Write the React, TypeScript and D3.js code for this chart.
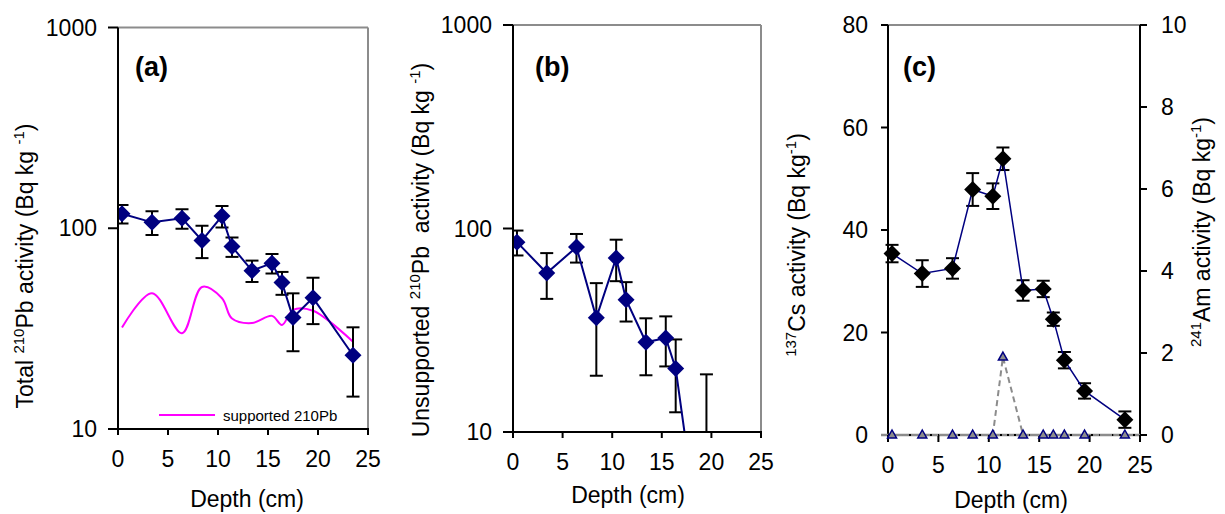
import React from 'react';
import * as d3 from 'd3';

// ---------------- data ----------------
const depths = [0.4, 3.4, 6.4, 8.4, 10.4, 11.4, 13.4, 15.4, 16.4, 17.5, 19.5, 23.5];
const totalPb = [118, 107, 112, 87, 115, 81, 61.5, 67, 53.6, 35.9, 45, 23.3];
const totalPbErr = [12.5, 14.5, 12.5, 16, 14, 9, 7.5, 7.5, 7, 11.5, 11.7, 8.8];
const supportedPb = [32, 47.5, 30, 51, 44.8, 35.5, 33.7, 36.6, 33, 39.2, 38.8, 27.2];
const unsupportedPb: (number | null)[] = [85.7, 60.4, 81, 36.4, 71.6, 44.7, 27.6, 29, 20.5, 8.4, 4, null];
const unsupportedPbErr: (number | null)[] = [12, 15.3, 13, 17.5, 16.5, 9.8, 8.6, 8, 8, 1, 15.2, null];
const cs137 = [35.4, 31.5, 32.5, 47.9, 46.6, 53.9, 28.2, 28.5, 22.6, 14.6, 8.6, 3.0];
const cs137Err = [1.7, 2.6, 2.0, 3.2, 2.5, 2.2, 2.0, 1.6, 1.3, 1.6, 1.5, 1.6];
const am241 = [0, 0, 0, 0, 0, 1.9, 0, 0, 0, 0, 0, 0];

const depthTicks = [0, 5, 10, 15, 20, 25];
const logTicks = [10, 100, 1000];
const csTicks = [0, 20, 40, 60, 80];
const amTicks = [0, 2, 4, 6, 8, 10];

// ---------------- style ----------------
const FONT = "'Liberation Sans', Arial, Helvetica, sans-serif";
const NAVY = '#000080';
const FS = 23;

const diamond = (x: number, y: number, r: number) =>
  `M${x},${y - r}L${x + r},${y}L${x},${y + r}L${x - r},${y}Z`;
const triangle = (x: number, y: number, w: number, h: number) =>
  `M${x},${y - h / 2}L${x + w / 2},${y + h / 2}L${x - w / 2},${y + h / 2}Z`;

type Box = { x0: number; x1: number; y0: number; y1: number };

function Frame({ b, rightGray = true }: { b: Box; rightGray?: boolean }) {
  return (
    <g>
      <line x1={b.x0} x2={b.x1} y1={b.y0} y2={b.y0} stroke="#8c8c8c" strokeWidth={2} />
      {rightGray && <line x1={b.x1} x2={b.x1} y1={b.y0} y2={b.y1} stroke="#8c8c8c" strokeWidth={2} />}
    </g>
  );
}

function ErrBar({ x, yHi, yLo }: { x: number; yHi: number; yLo: number }) {
  const c = 6.5;
  return (
    <g stroke="#000" strokeWidth={2}>
      <line x1={x} x2={x} y1={yHi} y2={yLo} />
      <line x1={x - c} x2={x + c} y1={yHi} y2={yHi} />
      <line x1={x - c} x2={x + c} y1={yLo} y2={yLo} />
    </g>
  );
}

function XAxis({ b, x, labelDy, title, titleX, titleY, tickLen = 6 }: any) {
  return (
    <g>
      {depthTicks.map((t) => (
        <g key={t}>
          <line x1={x(t)} x2={x(t)} y1={b.y1} y2={b.y1 + tickLen} stroke="#000" strokeWidth={2} />
          <text x={x(t)} y={b.y1 + labelDy} textAnchor="middle" fontSize={FS} fontFamily={FONT}>
            {t}
          </text>
        </g>
      ))}
      <text x={titleX} y={titleY} textAnchor="middle" fontSize={FS} fontFamily={FONT}>
        {title}
      </text>
    </g>
  );
}

function LogYAxis({ b, y, labelEnd }: any) {
  return (
    <g>
      <line x1={b.x0} x2={b.x0} y1={b.y0} y2={b.y1} stroke="#000" strokeWidth={2} />
      <line x1={b.x0} x2={b.x1 + 1} y1={b.y1} y2={b.y1} stroke="#000" strokeWidth={2} />
      {logTicks.map((t) => (
        <g key={t}>
          <line x1={b.x0 - 10} x2={b.x0} y1={y(t)} y2={y(t)} stroke="#000" strokeWidth={2} />
          <text x={labelEnd} y={y(t) + 8} textAnchor="end" fontSize={FS} fontFamily={FONT}>
            {t}
          </text>
        </g>
      ))}
    </g>
  );
}

function PanelTag({ x, text }: { x: number; text: string }) {
  return (
    <text x={x} y={76} fontSize={27} fontWeight="bold" fontFamily={FONT}>
      {text}
    </text>
  );
}

const SUP = { fontSize: 15 };

export default function App() {
  // ---- panel (a)
  const A: Box = { x0: 118, x1: 368, y0: 27.5, y1: 429 };
  const xA = d3.scaleLinear().domain([0, 25]).range([A.x0, A.x1]);
  const yA = d3.scaleLog().domain([10, 1000]).range([A.y1, A.y0]);
  const lineA = d3
    .line<number>()
    .x((_, i) => xA(depths[i]))
    .y((v) => yA(v));
  const suppLine = d3
    .line<number>()
    .x((_, i) => xA(depths[i]))
    .y((v) => yA(v))
    .curve(d3.curveCatmullRom.alpha(0.5));

  // ---- panel (b)
  const B: Box = { x0: 513, x1: 761, y0: 25, y1: 432 };
  const xB = d3.scaleLinear().domain([0, 25]).range([B.x0, B.x1]);
  const yB = d3.scaleLog().domain([10, 1000]).range([B.y1, B.y0]);
  const lineB = d3
    .line<number | null>()
    .defined((v) => v !== null)
    .x((_, i) => xB(depths[i]))
    .y((v) => yB(v as number));

  // ---- panel (c)
  const C: Box = { x0: 888, x1: 1140, y0: 25, y1: 435 };
  const xC = d3.scaleLinear().domain([0, 25]).range([C.x0, C.x1]);
  const yC = d3.scaleLinear().domain([0, 80]).range([C.y1, C.y0]);
  const yAm = d3.scaleLinear().domain([0, 10]).range([C.y1, C.y0]);
  const lineCs = d3
    .line<number>()
    .x((_, i) => xC(depths[i]))
    .y((v) => yC(v));
  const lineAm = d3
    .line<number>()
    .x((_, i) => xC(depths[i]))
    .y((v) => yAm(v));

  const logLo = (v: number, e: number) => Math.max(v - e, 0.5);

  return (
    <svg
      width={1225}
      height={514}
      style={{ position: 'absolute', left: 0, top: 0, background: '#fff' }}
      fontFamily={FONT}
    >
      <defs>
        <clipPath id="clipA">
          <rect x={A.x0} y={A.y0} width={A.x1 - A.x0} height={A.y1 - A.y0} />
        </clipPath>
        <clipPath id="clipB">
          <rect x={B.x0} y={B.y0} width={B.x1 - B.x0} height={B.y1 - B.y0} />
        </clipPath>
      </defs>
      <rect x={0} y={0} width={1225} height={514} fill="#fff" />

      {/* ================= Panel (a) ================= */}
      <Frame b={A} />
      <g clipPath="url(#clipA)">
        <path d={suppLine(supportedPb) || ''} fill="none" stroke="#ff00ff" strokeWidth={2} />
        {totalPb.map((v, i) => (
          <ErrBar key={i} x={xA(depths[i])} yHi={yA(v + totalPbErr[i])} yLo={yA(logLo(v, totalPbErr[i]))} />
        ))}
        <path d={lineA(totalPb) || ''} fill="none" stroke={NAVY} strokeWidth={2} />
        {totalPb.map((v, i) => (
          <path key={i} d={diamond(xA(depths[i]), yA(v), 8.5)} fill={NAVY} />
        ))}
      </g>
      <LogYAxis b={A} y={yA} labelEnd={97} />
      <XAxis b={A} x={xA} labelDy={38} title="Depth (cm)" titleX={247} titleY={507} />
      <PanelTag x={135} text="(a)" />
      <line x1={159} x2={215} y1={415} y2={415} stroke="#ff00ff" strokeWidth={2} />
      <text x={223} y={421} fontSize={15} fontFamily={FONT}>
        supported 210Pb
      </text>
      <text transform="translate(25,266) rotate(-90)" textAnchor="middle" dy="0.35em" fontSize={FS}>
        Total <tspan {...SUP} dy={-9}>210</tspan>
        <tspan dy={9}>Pb activity (Bq kg </tspan>
        <tspan {...SUP} dy={-9}>-1</tspan>
        <tspan dy={9}>)</tspan>
      </text>

      {/* ================= Panel (b) ================= */}
      <Frame b={B} />
      <g clipPath="url(#clipB)">
        {unsupportedPb.map((v, i) =>
          v === null || unsupportedPbErr[i] === null ? null : (
            <ErrBar
              key={i}
              x={xB(depths[i])}
              yHi={yB(v + (unsupportedPbErr[i] as number))}
              yLo={yB(logLo(v, unsupportedPbErr[i] as number))}
            />
          )
        )}
        <path d={lineB(unsupportedPb) || ''} fill="none" stroke={NAVY} strokeWidth={2} />
        {unsupportedPb.map((v, i) =>
          v === null ? null : <path key={i} d={diamond(xB(depths[i]), yB(v), 8.5)} fill={NAVY} />
        )}
      </g>
      <LogYAxis b={B} y={yB} labelEnd={492} />
      <XAxis b={B} x={xB} labelDy={38} title="Depth (cm)" titleX={628} titleY={503} />
      <PanelTag x={535} text="(b)" />
      <text
        transform="translate(421,250) rotate(-90)"
        textAnchor="middle"
        dy="0.35em"
        fontSize={FS}
        style={{ whiteSpace: 'pre' }}
      >
        {'Unsupported '}<tspan {...SUP} dy={-9}>210</tspan>
        <tspan dy={9}>{'Pb  activity (Bq kg '}</tspan>
        <tspan {...SUP} dy={-9}>-1</tspan>
        <tspan dy={9}>)</tspan>
      </text>

      {/* ================= Panel (c) ================= */}
      <Frame b={C} rightGray={false} />
      {/* left axis */}
      <line x1={C.x0} x2={C.x0} y1={C.y0} y2={C.y1} stroke="#000" strokeWidth={2} />
      {csTicks.map((t) => (
        <g key={t}>
          <line x1={C.x0 - 7} x2={C.x0} y1={yC(t)} y2={yC(t)} stroke="#000" strokeWidth={2} />
          <text x={868} y={yC(t) + 8} textAnchor="end" fontSize={FS}>
            {t}
          </text>
        </g>
      ))}
      {/* right axis */}
      <line x1={C.x1} x2={C.x1} y1={C.y0} y2={C.y1} stroke="#000" strokeWidth={2} />
      {amTicks.map((t) => (
        <g key={t}>
          <line x1={C.x1} x2={C.x1 + 7} y1={yAm(t)} y2={yAm(t)} stroke="#000" strokeWidth={2} />
          <text x={1161} y={yAm(t) + 8} textAnchor="start" fontSize={FS}>
            {t}
          </text>
        </g>
      ))}
      {/* bottom axis */}
      <line x1={C.x0 - 7} x2={C.x1} y1={C.y1} y2={C.y1} stroke="#8c8c8c" strokeWidth={2.5} />
      <line x1={C.x0} x2={C.x1} y1={C.y1} y2={C.y1} stroke="#000" strokeWidth={2} strokeDasharray="2,5" />
      <XAxis b={C} x={xC} labelDy={38} title="Depth (cm)" titleX={1011} titleY={508} tickLen={7} />

      {/* Am series */}
      <path d={lineAm(am241) || ''} fill="none" stroke="#8c8c8c" strokeWidth={2} strokeDasharray="6,4" />
      {am241.map((v, i) => (
        <path
          key={i}
          d={triangle(xC(depths[i]), yAm(v) - 1, 9, 8)}
          fill="#8c8c8c"
          stroke={NAVY}
          strokeWidth={1.5}
        />
      ))}

      {/* Cs series */}
      {cs137.map((v, i) => (
        <ErrBar key={i} x={xC(depths[i])} yHi={yC(v + cs137Err[i])} yLo={yC(v - cs137Err[i])} />
      ))}
      <path d={lineCs(cs137) || ''} fill="none" stroke={NAVY} strokeWidth={1.5} />
      {cs137.map((v, i) => (
        <path key={i} d={diamond(xC(depths[i]), yC(v), 8.5)} fill="#000" />
      ))}

      <PanelTag x={903} text="(c)" />
      <text transform="translate(805,245) rotate(-90)" textAnchor="middle" dy="0.35em" fontSize={FS}>
        <tspan {...SUP} dy={-9}>137</tspan>
        <tspan dy={9}>Cs activity (Bq kg</tspan>
        <tspan {...SUP} dy={-9}>-1</tspan>
        <tspan dy={9}>)</tspan>
      </text>
      <text transform="translate(1210,232) rotate(-90)" textAnchor="middle" dy="0.35em" fontSize={FS}>
        <tspan {...SUP} dy={-9}>241</tspan>
        <tspan dy={9}>Am activity (Bq kg</tspan>
        <tspan {...SUP} dy={-9}>-1</tspan>
        <tspan dy={9}>)</tspan>
      </text>
    </svg>
  );
}
